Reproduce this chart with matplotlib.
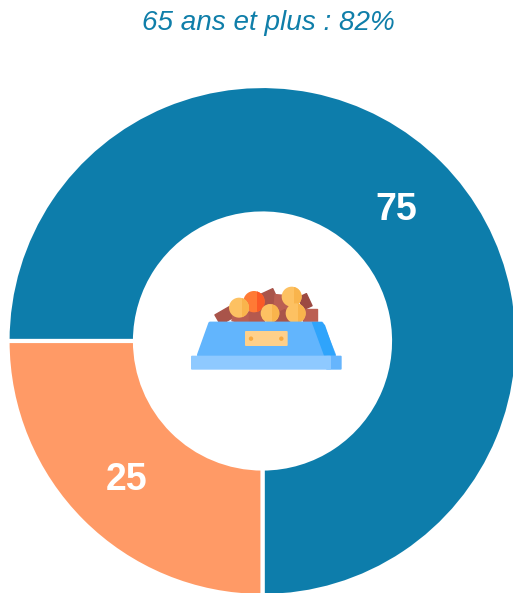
import matplotlib
matplotlib.use("Agg")
import matplotlib.pyplot as plt
from matplotlib.patches import Circle, FancyBboxPatch, Polygon, Rectangle
from matplotlib.transforms import Affine2D

title = "65 ans et plus : 82%"
values = [75, 25]
labels = ["75", "25"]
colors = ["#0d7dab", "#ff9a66"]

W, H = 513, 593
fig = plt.figure(figsize=(W / 100, H / 100), dpi=100)
ax = fig.add_axes([0, 0, 1, 1])
ax.set_xlim(0, W)
ax.set_ylim(0, H)
ax.axis("off")

CX, CY, R, r = 262.5, H - 341, 255, 127.5
ax.pie(values, colors=colors, startangle=270, center=(CX, CY), radius=R, frame=True,
       wedgeprops=dict(width=R - r, edgecolor="white", linewidth=3))
ax.set_xlim(0, W)
ax.set_ylim(0, H)
ax.set_aspect("equal")
ax.axis("off")

font = ["Liberation Sans", "DejaVu Sans"]
ax.text(268, H - 23, title, ha="center", va="center", fontsize=20.1, style="italic",
        color="#0f7ea9", family=font)
ax.text(396.5, H - 210, labels[0], ha="center", va="center", fontsize=27, weight="bold",
        color="white", family=font)
ax.text(126.5, H - 480, labels[1], ha="center", va="center", fontsize=27, weight="bold",
        color="white", family=font)


# decorative kibble-bowl icon, in coordinates of the 3x crop
def P(zx, zy):
    return 180 + zx / 3, H - (275 + zy / 3)


def kibble(zx, zy, w, h, angle, color):
    x, y = P(zx, zy)
    rect = Rectangle((x - w / 6, y - h / 6), w / 3, h / 3, facecolor=color, edgecolor=color,
                     linewidth=1, joinstyle="round",
                     transform=Affine2D().rotate_deg_around(x, y, angle) + ax.transData, zorder=5)
    ax.add_patch(rect)


def ball(zx, zy, rad, color, shade):
    x, y = P(zx, zy)
    ax.add_patch(Circle((x, y), rad / 3, facecolor=color, edgecolor="none", zorder=6))
    clip = Circle((x, y), rad / 3, transform=ax.transData)
    half = Rectangle((x + rad / 12, y - rad / 3), rad / 3, 2 * rad / 3, facecolor=shade,
                     edgecolor="none", zorder=6)
    ax.add_patch(half)
    half.set_clip_path(clip)


ball(222, 80, 32, "#ff7a35", "#fb5a26")
kibble(135, 122, 50, 34, 30, "#a9544a")
kibble(265, 72, 50, 45, 25, "#a9544a")
kibble(375, 80, 28, 40, 25, "#9c4a42")
kibble(390, 122, 44, 40, 0, "#bb5f52")
ball(177, 98, 30, "#fdc162", "#f9b44c")
kibble(185, 125, 52, 36, -12, "#bb5f52")
kibble(230, 118, 44, 45, 0, "#b5594e")
kibble(258, 105, 30, 40, 0, "#a9544a")
kibble(310, 90, 54, 58, -5, "#bb5f52")
kibble(320, 125, 40, 30, 0, "#a9544a")
ball(335, 65, 30, "#fdc162", "#f9b44c")
ball(270, 115, 28, "#fdc162", "#f9b44c")
kibble(300, 126, 45, 28, 25, "#a9544a")
ball(347, 115, 30, "#fdc162", "#f9b44c")

ax.add_patch(Polygon([P(90, 145), P(425, 145), P(463, 240), P(56, 240)], closed=True,
                     facecolor="#62b5fd", edgecolor="#62b5fd", linewidth=2.5, joinstyle="round", zorder=7))
ax.add_patch(Polygon([P(395, 141), P(425, 141), P(435, 150), P(467, 242), P(432, 242)], closed=True,
                     facecolor="#2fa4fb", edgecolor="none", zorder=7))

x0, y0 = P(33, 284)
x1, y1 = P(485, 242)
xs, _ = P(450, 284)
ax.add_patch(FancyBboxPatch((xs - 3, y0 + 1), x1 - xs + 2, y1 - y0 - 2, boxstyle="round,pad=1",
                            facecolor="#66b5fd", edgecolor="none", zorder=8))
ax.add_patch(FancyBboxPatch((x0 + 1, y0 + 1), xs - x0 - 1, y1 - y0 - 2, boxstyle="round,pad=1",
                            facecolor="#8ec9ff", edgecolor="none", zorder=8))

x0, y0 = P(195, 213)
x1, y1 = P(323, 168)
ax.add_patch(FancyBboxPatch((x0 + 1, y0 + 1), x1 - x0 - 2, y1 - y0 - 2, boxstyle="round,pad=1",
                            facecolor="#ffd08a", edgecolor="none", zorder=9))
for zx in (213, 304):
    x, y = P(zx, 191)
    ax.add_patch(Circle((x, y), 2.2, facecolor="#f8a93f", edgecolor="none", zorder=10))

fig.savefig("out.png", dpi=100, facecolor="white")
